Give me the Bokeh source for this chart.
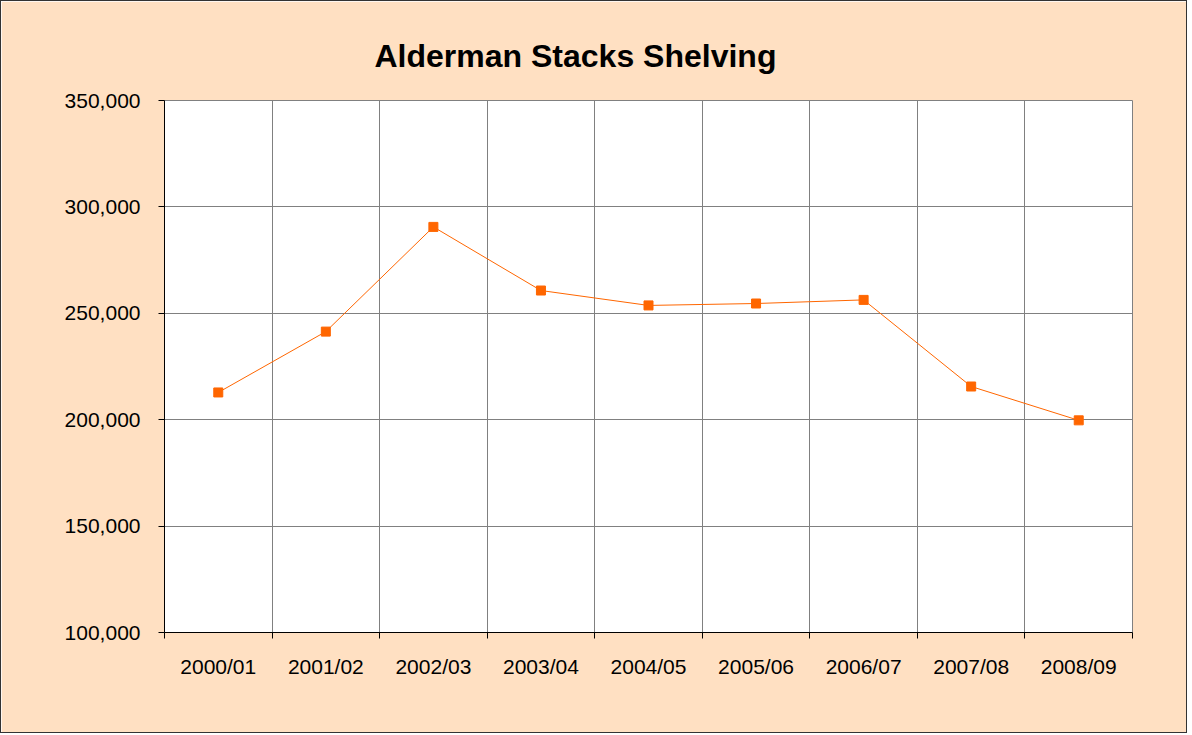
from bokeh.plotting import figure
from bokeh.models import FixedTicker, NumeralTickFormatter, Range1d, ColumnDataSource
from bokeh.embed import file_html
from bokeh.resources import INLINE

categories = ["2000/01", "2001/02", "2002/03", "2003/04", "2004/05",
              "2005/06", "2006/07", "2007/08", "2008/09"]
values = [212800, 241400, 290600, 260700, 253700, 254600, 256300, 215600, 199700]
y_ticks = [100000, 150000, 200000, 250000, 300000, 350000]

xs = [i + 0.5 for i in range(len(categories))]
src = ColumnDataSource(dict(x=xs, y=values, cat=categories))

p = figure(width=1186, height=732, output_backend="svg", toolbar_location=None,
           x_range=Range1d(0, len(categories)), y_range=Range1d(100000, 350000),
           frame_width=968, frame_height=532,
           min_border_left=163, min_border_right=54, min_border_top=99, min_border_bottom=100)

p.background_fill_color = "white"
p.border_fill_color = "#FFE0C2"
p.outline_line_color = "#808080"
p.outline_line_width = 1
p.styles = {"border": "1px solid #333333"}

p.title.text = "Alderman Stacks Shelving"
p.title.text_font = "Liberation Sans"
p.title.text_font_size = "32px"
p.title.text_font_style = "bold"
p.title.text_color = "black"
p.title.align = "left"
p.title.offset = 210
p.title.standoff = 54

# x axis
p.xaxis.ticker = FixedTicker(ticks=xs, minor_ticks=list(range(len(categories) + 1)))
p.xaxis.major_label_overrides = {x: c for x, c in zip(xs, categories)}
p.xaxis.major_tick_out = 0
p.xaxis.major_tick_in = 0
p.xaxis.minor_tick_out = 6
p.xaxis.minor_tick_in = 0
p.xaxis.minor_tick_line_color = "black"
p.xaxis.axis_line_color = "black"
p.xaxis.major_label_standoff = 16
p.xaxis.major_label_text_font = "Liberation Sans"
p.xaxis.major_label_text_font_size = "21px"
p.xaxis.major_label_text_color = "black"

# y axis
p.yaxis.ticker = FixedTicker(ticks=y_ticks)
p.yaxis.formatter = NumeralTickFormatter(format="0,0")
p.yaxis.major_tick_out = 6
p.yaxis.major_tick_in = 0
p.yaxis.minor_tick_out = 0
p.yaxis.minor_tick_in = 0
p.yaxis.axis_line_color = "black"
p.yaxis.major_tick_line_color = "black"
p.yaxis.major_label_standoff = 18
p.yaxis.major_label_text_font = "Liberation Sans"
p.yaxis.major_label_text_font_size = "21px"
p.yaxis.major_label_text_color = "black"

# grids
p.xgrid.ticker = FixedTicker(ticks=list(range(1, len(categories))))
p.xgrid.grid_line_color = "#808080"
p.ygrid.grid_line_color = "#808080"
p.xgrid.grid_line_alpha = 1
p.ygrid.grid_line_alpha = 1

p.line("x", "y", source=src, line_color="#FF6600", line_width=1)
p.scatter("x", "y", source=src, marker="square", size=9,
          fill_color="#FF6600", line_color="#FF6600")

open("out.html", "w").write(file_html(p, INLINE))
